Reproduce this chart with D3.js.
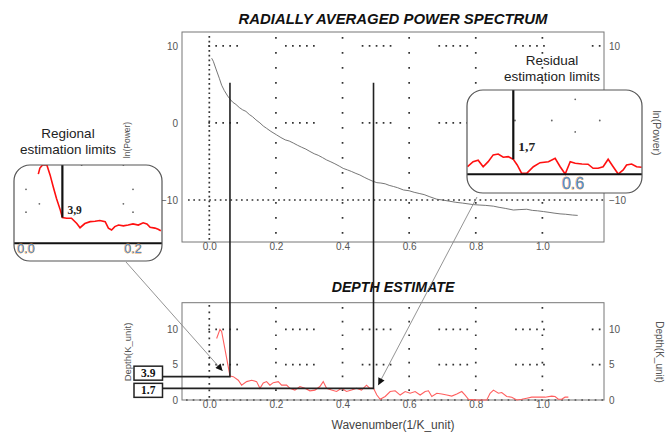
<!DOCTYPE html>
<html>
<head>
<meta charset="utf-8">
<script src="https://d3js.org/d3.v7.min.js"></script>
<style>
body { margin: 0; background: #fff; }
svg { display: block; font-family: "Liberation Sans", Arial, sans-serif; }
</style>
</head>
<body>
<svg id="chart" width="672" height="433"></svg>
<script>
(function () {
    'use strict';

    // radially averaged power spectrum: wavenumber vs ln(power)
    var specK = [0.007, 0.012, 0.02, 0.03, 0.037, 0.045, 0.055, 0.062, 0.07, 0.08, 0.09, 0.10, 0.11, 0.12, 0.13, 0.14,
        0.152, 0.162, 0.172, 0.185, 0.202, 0.215, 0.228, 0.24, 0.252, 0.265, 0.277, 0.29, 0.302, 0.315, 0.327, 0.34,
        0.352, 0.365, 0.377, 0.39, 0.402, 0.415, 0.427, 0.44, 0.452, 0.465, 0.477, 0.49, 0.503, 0.515, 0.528, 0.54,
        0.553, 0.565, 0.583, 0.6, 0.615, 0.63, 0.645, 0.66, 0.683, 0.70, 0.72, 0.74, 0.76, 0.793, 0.81, 0.83, 0.853,
        0.87, 0.89, 0.913, 0.93, 0.953, 0.97, 0.985, 1.003, 1.02, 1.035, 1.053, 1.07, 1.09, 1.106];
    var specPower = [8.4, 8.0, 7.0, 5.8, 4.9, 4.2, 3.5, 3.1, 2.7, 2.4, 2.0, 1.7, 1.5, 1.1, 0.8, 0.4,
        0.0, -0.4, -0.7, -1.1, -1.55, -1.9, -2.2, -2.35, -2.6, -2.9, -3.15, -3.4, -3.7, -4.0, -4.2, -4.5,
        -4.8, -5.05, -5.3, -5.6, -5.9, -6.1, -6.3, -6.55, -6.75, -7.05, -7.3, -7.55, -7.75, -7.8, -7.9, -8.1,
        -8.25, -8.4, -8.7, -8.8, -9.0, -9.15, -9.3, -9.55, -9.9, -10.0, -10.15, -10.3, -10.4, -10.6, -10.65, -10.7, -10.8,
        -10.95, -11.1, -11.3, -11.25, -11.2, -11.35, -11.4, -11.5, -11.6, -11.7, -11.8, -11.85, -11.95, -12.0];

    // depth estimate
    var depthK = [0.022, 0.032, 0.037, 0.062, 0.072, 0.087, 0.097, 0.112, 0.127, 0.142,
        0.152, 0.162, 0.172, 0.182, 0.192, 0.207, 0.217, 0.232, 0.242, 0.257,
        0.272, 0.287, 0.302, 0.317, 0.332, 0.342, 0.352, 0.367, 0.382, 0.397,
        0.412, 0.427, 0.442, 0.457, 0.472, 0.482, 0.493, 0.503, 0.513, 0.528,
        0.543, 0.558, 0.573, 0.588, 0.603, 0.618, 0.633, 0.648, 0.658, 0.668,
        0.683, 0.698, 0.713, 0.728, 0.743, 0.758, 0.768, 0.778, 0.803, 0.833,
        0.843, 0.853, 0.868, 0.878, 0.893, 0.908, 0.923, 0.938, 0.953, 0.968,
        0.988, 1.008, 1.028, 1.038, 1.048, 1.058, 1.068, 1.078];
    var depthVal = [8.7, 10.0, 9.7, 3.4, 3.3, 2.8, 2.1, 2.6, 2.8, 2.6,
        1.65, 2.4, 2.6, 2.1, 2.45, 2.6, 2.1, 2.1, 1.65, 1.4,
        1.9, 1.65, 1.3, 1.4, 1.9, 2.6, 1.65, 1.4, 1.2, 1.65,
        1.2, 1.4, 1.65, 1.4, 2.1, 1.65, 1.65, 0.7, 0.1, 0.5,
        1.2, 1.3, 0.7, 1.2, 0.95, 1.2, 0.7, 1.2, 1.3, 0.5,
        0.95, 0.85, 0.7, 0.55, 0.85, 1.2, 0.7, 0.1, 0.0, 0.0,
        0.95, 1.4, 0.95, 1.05, 0.5, 0.4, 0.0, 0.1, 0.25, 0.4,
        0.4, 0.4, 0.55, 0.5, 0.1, 0.1, 0.4, 0.4];

    var xTicks = [0, 0.2, 0.4, 0.6, 0.8, 1.0];
    var powerTicks = [-10, 0, 10];
    var depthTicks = [0, 5, 10];

    // regional / residual estimation limits
    var limitK = [0.062, 0.493];
    var limitPower = [5.2, 5.2];
    var limitDepth = [3.3, 1.65];
    var limitLabels = ["3.9", "1.7"];
    var arrowK = [0.040, 0.507];
    var arrowDepth = [4.1, 2.1];

    // zoomed insets
    var leftInsetK = [0.023, 0.026, 0.031, 0.039, 0.045, 0.051, 0.057, 0.064, 0.068, 0.076, 0.085, 0.095, 0.101, 0.110,
        0.120, 0.129, 0.138, 0.148, 0.154, 0.160, 0.166, 0.173, 0.182, 0.191, 0.200, 0.210, 0.219, 0.226, 0.232,
        0.241, 0.247, 0.252];
    var leftInsetDepth = [9.1, 9.9, 10.3, 10.3, 9.0, 7.4, 5.9, 4.4, 3.4, 3.3, 3.3, 2.6, 2.05, 2.6,
        2.85, 2.9, 3.0, 2.85, 2.0, 1.75, 2.2, 2.4, 2.3, 2.4, 2.55, 2.4, 2.7, 2.55, 2.1,
        2.0, 1.85, 1.65];
    var rightInsetK = [0.411, 0.421, 0.430, 0.439, 0.448, 0.457, 0.466, 0.475, 0.484, 0.493, 0.500, 0.508, 0.517,
        0.529, 0.541, 0.556, 0.568, 0.577, 0.586, 0.595, 0.604, 0.616, 0.627, 0.636, 0.645, 0.654, 0.663, 0.672,
        0.681, 0.690, 0.696, 0.705, 0.714, 0.723];
    var rightInsetDepth = [0.86, 1.43, 1.6, 0.86, 1.43, 2.2, 2.3, 1.93, 2.0, 1.7, 1.06, 0.11, 0.11,
        0.86, 1.32, 1.43, 1.82, 0.86, 0.03, 1.43, 1.25, 1.17, 1.14, 0.68, 0.68, 0.86, 1.7, 0.86,
        0.03, 0.49, 1.06, 1.17, 0.86, 0.8];
    var insetLimitK = [0.068, 0.493];
    var insetLimitDepth = [3.4, 1.7];
    var insetLimitLabels = ["3,9", "1,7"];

    var svg = d3.select("#chart");

    var x = d3.scaleLinear().domain([-0.082, 1.185]).range([182, 604]);
    var yTop = d3.scaleLinear().domain([-15.45, 11.8]).range([242, 32]);
    var yBot = d3.scaleLinear().domain([0, 13.76]).range([400, 302.7]);

    var defs = svg.append("defs");
    defs.append("marker")
        .attr("id", "arrow")
        .attr("viewBox", "0 0 10 10")
        .attr("refX", 10)
        .attr("refY", 5)
        .attr("markerWidth", 8)
        .attr("markerHeight", 7)
        .attr("markerUnits", "userSpaceOnUse")
        .attr("orient", "auto")
        .append("path")
        .attr("d", "M0,0 L10,5 L0,10 z")
        .attr("fill", "#111");

    function dotted(g, x1, y1, x2, y2, dash) {
        g.append("line")
            .attr("x1", x1).attr("y1", y1)
            .attr("x2", x2).attr("y2", y2)
            .attr("stroke", "#333")
            .attr("stroke-width", 1.7)
            .attr("stroke-dasharray", dash);
    }

    var groupDash = "1.7,5.3,1.7,5.3,1.7,5.3,1.7,5.3,1.7,47";

    function frame(yScale) {
        svg.append("rect")
            .attr("x", x.range()[0])
            .attr("y", yScale.range()[1])
            .attr("width", x.range()[1] - x.range()[0])
            .attr("height", yScale.range()[0] - yScale.range()[1])
            .attr("fill", "none")
            .attr("stroke", "#777")
            .attr("stroke-width", 1);
    }

    function axes(yScale, ticks, fmtY) {
        var left = svg.append("g")
            .attr("transform", "translate(" + x.range()[0] + ",0)")
            .call(d3.axisLeft(yScale).tickValues(ticks).tickSize(0).tickPadding(4).tickFormat(fmtY));
        var right = svg.append("g")
            .attr("transform", "translate(" + x.range()[1] + ",0)")
            .call(d3.axisRight(yScale).tickValues(ticks).tickSize(0).tickPadding(5).tickFormat(fmtY));
        var bottom = svg.append("g")
            .attr("transform", "translate(0," + yScale.range()[0] + ")")
            .call(d3.axisBottom(x).tickValues(xTicks).tickSize(0).tickPadding(1).tickFormat(d3.format(".1f")));
        [left, right, bottom].forEach(function (a) {
            a.select(".domain").remove();
            a.selectAll("text")
                .attr("font-family", "'Liberation Sans', Arial, sans-serif")
                .attr("font-size", 10)
                .attr("fill", "#555");
        });
    }

    // ---- top chart ----
    var gTop = svg.append("g");
    frame(yTop);
    xTicks.forEach(function (t) {
        if (t === 0) {
            dotted(gTop, x(t), 36, x(t), 242, "1.7,3");
        } else {
            dotted(gTop, x(t), 37, x(t), 242, "1.7,13.3");
        }
    });
    dotted(gTop, x(0) - 1, yTop(10), x.range()[1], yTop(10), groupDash);
    dotted(gTop, x(0) - 1, yTop(0), x.range()[1], yTop(0), groupDash);
    dotted(gTop, 188, yTop(-10), x.range()[1], yTop(-10), "1.7,3.6");
    axes(yTop, powerTicks, d3.format("d"));

    var specLine = d3.line()
        .x(function (d) { return x(d[0]); })
        .y(function (d) { return yTop(d[1]); });
    svg.append("path")
        .datum(d3.zip(specK, specPower))
        .attr("d", specLine)
        .attr("fill", "none")
        .attr("stroke", "#666")
        .attr("stroke-width", 0.9);

    svg.append("text")
        .attr("x", 393)
        .attr("y", 24)
        .attr("text-anchor", "middle")
        .attr("font-weight", "bold")
        .attr("font-style", "italic")
        .attr("font-size", 14.9)
        .attr("fill", "#111")
        .text("RADIALLY AVERAGED POWER SPECTRUM");

    svg.append("text")
        .attr("transform", "translate(130,140) rotate(-90)")
        .attr("text-anchor", "middle")
        .attr("font-size", 8.5)
        .attr("fill", "#555")
        .text("ln(Power)");
    svg.append("text")
        .attr("transform", "translate(653,133) rotate(90)")
        .attr("text-anchor", "middle")
        .attr("font-size", 10.5)
        .attr("fill", "#555")
        .text("ln(Power)");

    // ---- bottom chart ----
    var gBot = svg.append("g");
    frame(yBot);
    xTicks.forEach(function (t) {
        if (t === 0) {
            dotted(gBot, x(t), 305, x(t), 400, "1.7,4.8");
        } else {
            dotted(gBot, x(t), 307, x(t), 400, "1.7,12");
        }
    });
    dotted(gBot, x(0) - 1, yBot(10), x.range()[1], yBot(10), groupDash);
    dotted(gBot, x(0) - 1, yBot(5), x.range()[1], yBot(5), groupDash);
    dotted(gBot, 186, yBot(0), x.range()[1], yBot(0), "1.7,5");
    axes(yBot, depthTicks, d3.format("d"));

    var depthLine = d3.line()
        .x(function (d) { return x(d[0]); })
        .y(function (d) { return yBot(d[1]); });
    svg.append("path")
        .datum(d3.zip(depthK, depthVal))
        .attr("d", depthLine)
        .attr("fill", "none")
        .attr("stroke", "#ff5f5f")
        .attr("stroke-width", 1.1);

    svg.append("text")
        .attr("x", 393)
        .attr("y", 292)
        .attr("text-anchor", "middle")
        .attr("font-weight", "bold")
        .attr("font-style", "italic")
        .attr("font-size", 14.2)
        .attr("fill", "#111")
        .text("DEPTH ESTIMATE");

    svg.append("text")
        .attr("x", 393)
        .attr("y", 429)
        .attr("text-anchor", "middle")
        .attr("font-size", 12)
        .attr("fill", "#444")
        .text("Wavenumber(1/K_unit)");

    svg.append("text")
        .attr("transform", "translate(131,352) rotate(-90)")
        .attr("text-anchor", "middle")
        .attr("font-size", 9.5)
        .attr("fill", "#555")
        .text("Depth(K_unit)");
    svg.append("text")
        .attr("transform", "translate(656,352) rotate(90)")
        .attr("text-anchor", "middle")
        .attr("font-size", 10)
        .attr("fill", "#555")
        .text("Depth(K_unit)");

    // ---- estimation limit lines and value boxes ----
    var boxX = 134, boxW = 28.5, boxH = 14;
    var boxOffset = [-10.5, -5];
    limitK.forEach(function (k, i) {
        var ly = yBot(limitDepth[i]);
        svg.append("path")
            .attr("d", "M" + x(k) + "," + yTop(limitPower[i]) + "V" + ly + "H" + (boxX + boxW))
            .attr("fill", "none")
            .attr("stroke", "#222")
            .attr("stroke-width", 1.6);
        svg.append("rect")
            .attr("x", boxX)
            .attr("y", ly + boxOffset[i])
            .attr("width", boxW)
            .attr("height", boxH)
            .attr("fill", "#fff")
            .attr("stroke", "#222")
            .attr("stroke-width", 1.5);
        svg.append("text")
            .attr("x", boxX + boxW / 2)
            .attr("y", ly + boxOffset[i] + boxH / 2 + 4)
            .attr("text-anchor", "middle")
            .attr("font-family", "'Liberation Serif', serif")
            .attr("font-weight", "bold")
            .attr("font-size", 11.5)
            .attr("fill", "#111")
            .text(limitLabels[i]);
    });

    // ---- insets ----
    var insets = [
        { x: 14, y: 165, w: 148, h: 96, r: 16, base: 243.3,
          kx: d3.scaleLinear().domain([0, 0.2]).range([26, 133]),
          dy: d3.scaleLinear().domain([0, 10]).range([243.3, 167.3]),
          k: leftInsetK, d: leftInsetDepth, ticks: [0, 0.2], tickSize: 12.5, tickY: 253,
          from: [126, 262],
          dots: [[0, 7.1], [0.025, 5.2], [0, 4.1], [0.2, 7.1], [0.182, 5.2], [0.2, 4.1], [0.104, 10.3], [0.182, 10.3]] },
        { x: 467, y: 90, w: 175, h: 103, r: 16, base: 174.3,
          kx: d3.scaleLinear().domain([0.493, 0.6]).range([513.3, 573]),
          dy: d3.scaleLinear().domain([0, 1.7]).range([174.3, 159.3]),
          k: rightInsetK, d: rightInsetDepth, ticks: [0.6], tickSize: 16, tickY: 189,
          from: [477, 197],
          dots: [[0.604, 8.5], [0.562, 6.1], [0.648, 6.1], [0.604, 4.8], [0.496, 6.1]] }
    ];

    insets.forEach(function (ins, i) {
        // callout line to the depth chart
        svg.append("line")
            .attr("x1", ins.from[0]).attr("y1", ins.from[1])
            .attr("x2", x(arrowK[i])).attr("y2", yBot(arrowDepth[i]))
            .attr("stroke", "#888")
            .attr("stroke-width", 0.9)
            .attr("marker-end", "url(#arrow)");

        var g = svg.append("g");
        var clipId = "clip" + i;
        defs.append("clipPath").attr("id", clipId)
            .append("rect")
            .attr("x", ins.x).attr("y", ins.y)
            .attr("width", ins.w).attr("height", ins.h)
            .attr("rx", ins.r);

        g.append("rect")
            .attr("x", ins.x).attr("y", ins.y)
            .attr("width", ins.w).attr("height", ins.h)
            .attr("rx", ins.r)
            .attr("fill", "#fff");

        var inner = g.append("g").attr("clip-path", "url(#" + clipId + ")");
        inner.selectAll("circle")
            .data(ins.dots)
            .enter()
            .append("circle")
            .attr("cx", function (d) { return ins.kx(d[0]); })
            .attr("cy", function (d) { return ins.dy(d[1]); })
            .attr("r", 0.9)
            .attr("fill", "#666");

        inner.append("path")
            .datum(d3.zip(ins.k, ins.d))
            .attr("d", d3.line()
                .x(function (d) { return ins.kx(d[0]); })
                .y(function (d) { return ins.dy(d[1]); }))
            .attr("fill", "none")
            .attr("stroke", "#ff1010")
            .attr("stroke-width", 1.6);

        inner.append("line")
            .attr("x1", ins.x).attr("x2", ins.x + ins.w)
            .attr("y1", ins.base).attr("y2", ins.base)
            .attr("stroke", "#111")
            .attr("stroke-width", 2);

        inner.append("line")
            .attr("x1", ins.kx(insetLimitK[i])).attr("x2", ins.kx(insetLimitK[i]))
            .attr("y1", ins.y).attr("y2", ins.dy(insetLimitDepth[i]))
            .attr("stroke", "#111")
            .attr("stroke-width", 2.2);

        inner.append("text")
            .attr("x", ins.kx(insetLimitK[i]) + 5)
            .attr("y", ins.dy(insetLimitDepth[i]) - (i === 0 ? 3 : 8))
            .attr("font-family", "'Liberation Serif', serif")
            .attr("font-weight", "bold")
            .attr("font-size", i === 0 ? 11.5 : 13.5)
            .attr("fill", "#222")
            .text(insetLimitLabels[i]);

        inner.selectAll("text.tick")
            .data(ins.ticks)
            .enter()
            .append("text")
            .attr("class", "tick")
            .attr("x", function (d) { return ins.kx(d); })
            .attr("y", ins.tickY)
            .attr("text-anchor", "middle")
            .attr("font-size", ins.tickSize)
            .attr("fill", "#4f8fd6")
            .attr("stroke", "#efa548")
            .attr("stroke-width", 0.8)
            .attr("paint-order", "stroke")
            .text(d3.format(".1f"));

        g.append("rect")
            .attr("x", ins.x).attr("y", ins.y)
            .attr("width", ins.w).attr("height", ins.h)
            .attr("rx", ins.r)
            .attr("fill", "none")
            .attr("stroke", "#555")
            .attr("stroke-width", 1.2);
    });

    // inset captions
    var captions = [
        { x: 68, lines: ["Regional", "estimation limits"], y: 138 },
        { x: 552, lines: ["Residual", "estimation limits"], y: 65 }
    ];
    captions.forEach(function (c) {
        svg.append("text")
            .attr("text-anchor", "middle")
            .attr("font-size", 13.5)
            .attr("fill", "#222")
            .selectAll("tspan")
            .data(c.lines)
            .enter()
            .append("tspan")
            .attr("x", c.x)
            .attr("y", function (d, j) { return c.y + j * 15.5; })
            .text(function (d) { return d; });
    });
})();
</script>
</body>
</html>
